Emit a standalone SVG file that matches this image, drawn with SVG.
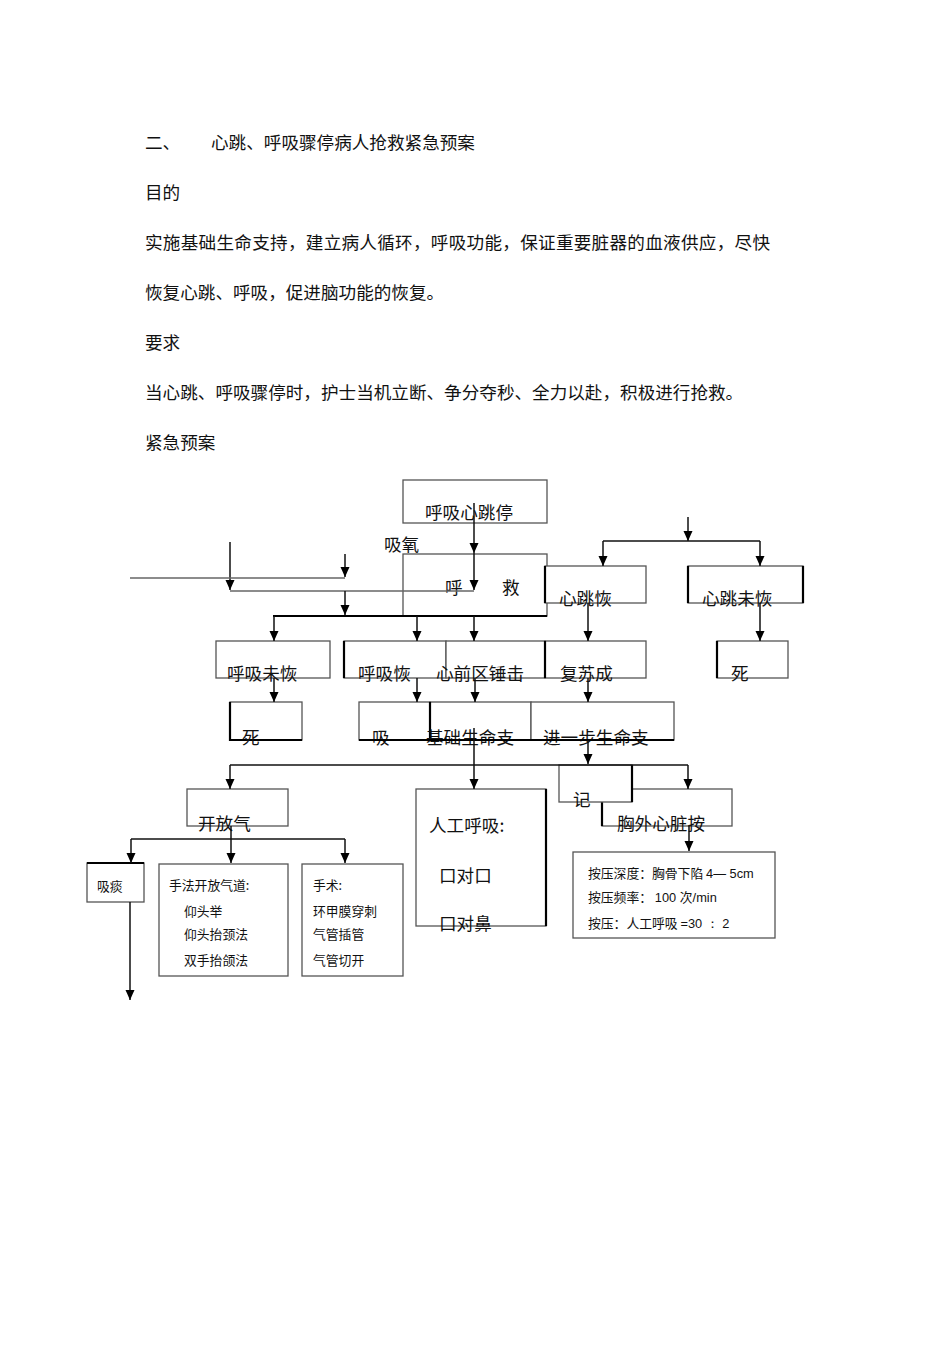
<svg xmlns="http://www.w3.org/2000/svg" width="950" height="1345" viewBox="0 0 950 1345">
<defs>
<style>
.t{font-family:"Noto Sans CJK SC","Liberation Sans",sans-serif;font-size:17.6px;fill:#111}
.s{font-family:"Noto Sans CJK SC","Liberation Sans",sans-serif;font-size:12.8px;fill:#111}
.b{fill:#fff;stroke:#555;stroke-width:1.3}
.k{fill:none;stroke:#000;stroke-width:2.2}
.c{fill:none;stroke:#111;stroke-width:1.5}
.g{fill:none;stroke:#666;stroke-width:1.3}
</style>
<marker id="ah" markerUnits="userSpaceOnUse" markerWidth="10" markerHeight="10" refX="10" refY="5" orient="auto">
<path d="M0,0.5 L10,5 L0,9.5 z" fill="#000"/>
</marker>
</defs>
<rect width="950" height="1345" fill="#fff"/>

<g id="header">
<text class="t" x="145" y="149">二、</text>
<text class="t" x="211" y="149">心跳、呼吸骤停病人抢救紧急预案</text>
<text class="t" x="145" y="199">目的</text>
<text class="t" x="145" y="249" textLength="625" lengthAdjust="spacing">实施基础生命支持，建立病人循环，呼吸功能，保证重要脏器的血液供应，尽快</text>
<text class="t" x="145" y="299">恢复心跳、呼吸，促进脑功能的恢复。</text>
<text class="t" x="145" y="349">要求</text>
<text class="t" x="145" y="399">当心跳、呼吸骤停时，护士当机立断、争分夺秒、全力以赴，积极进行抢救。</text>
<text class="t" x="145" y="449">紧急预案</text>
</g>

<g id="n-arrest"><rect class="b" x="403" y="480" width="144" height="43"/><text class="t" x="425" y="519">呼吸心跳停</text></g>
<g id="n-oxygen"><text class="t" x="384" y="551">吸氧</text></g>
<g id="n-rescue"><rect class="b" x="403" y="554" width="144" height="62"/><text class="t" x="445" y="594">呼</text><text class="t" x="502" y="594">救</text></g>
<g id="n-heart-ok"><rect class="b" x="545" y="566" width="101" height="37"/><path class="k" d="M545,566 V603" stroke-width="1.6"/><text class="t" x="559" y="605">心跳恢</text></g>
<g id="n-heart-no"><rect class="b" x="688" y="566" width="115" height="37"/><path class="k" d="M688,566 V603 M803,566 V603" stroke-width="1.8"/><text class="t" x="702" y="605">心跳未恢</text></g>

<g id="n-breath-no"><rect class="b" x="216" y="641" width="114" height="37"/><text class="t" x="227" y="680">呼吸未恢</text></g>
<g id="n-breath-ok"><rect class="b" x="344" y="641" width="102" height="37"/><path class="k" d="M344,641 V678"/><text class="t" x="358" y="680">呼吸恢</text></g>
<g id="n-thump"><rect class="b" x="446" y="641" width="99" height="37"/><text class="t" x="436" y="680">心前区锤击</text></g>
<g id="n-revived"><rect class="b" x="545" y="641" width="101" height="37"/><path class="k" d="M545,641 V678"/><text class="t" x="560" y="680">复苏成</text></g>
<g id="n-death-r"><rect class="b" x="717" y="641" width="71" height="37"/><path class="k" d="M717,641 V678"/><text class="t" x="731" y="680">死</text></g>

<g id="n-death-l"><rect class="b" x="230" y="702" width="72" height="38"/><path class="k" d="M230,702 V740 H302"/><text class="t" x="242" y="744">死</text></g>
<g id="n-suck"><rect class="b" x="359" y="702" width="71" height="38"/><text class="t" x="372" y="744">吸</text></g>
<g id="n-bls"><rect class="b" x="430" y="702" width="101" height="38"/><path class="k" d="M430,702 V740"/><text class="t" x="426" y="744">基础生命支</text></g>
<g id="n-als"><rect class="b" x="531" y="702" width="143" height="38"/><text class="t" x="543" y="744">进一步生命支</text></g>
<path id="row4-base" class="k" d="M359,740 H674"/>

<g id="n-airway"><rect class="b" x="187" y="789" width="101" height="37"/><text class="t" x="198" y="830">开放气</text></g>
<g id="n-ventilation"><rect class="b" x="416" y="789" width="130" height="137"/><path class="k" d="M546,789 V926" stroke-width="1.8"/><text class="t" x="429" y="832">人工呼吸:</text><text class="t" x="439" y="882">口对口</text><text class="t" x="439" y="930">口对鼻</text></g>
<g id="n-compress"><rect class="b" x="602" y="789" width="130" height="37"/><path class="k" d="M602,802 V826"/><text class="t" x="617" y="830">胸外心脏按</text></g>
<g id="n-record"><rect class="b" x="559" y="765" width="73" height="37"/><path class="k" d="M632,765 V802" stroke-width="1.8"/><text class="t" x="573" y="806">记</text></g>

<g id="n-suction"><rect class="b" x="87" y="863" width="57" height="39"/><path class="k" d="M87,863 H144"/><text class="s" x="97" y="891">吸痰</text></g>
<g id="n-manual"><rect class="b" x="159" y="864" width="129" height="112" stroke="#222" stroke-width="2"/><text class="s" x="169" y="890">手法开放气道:</text><text class="s" x="184" y="916">仰头举</text><text class="s" x="184" y="939">仰头抬颈法</text><text class="s" x="184" y="965">双手抬颌法</text></g>
<g id="n-surgery"><rect class="b" x="302" y="864" width="101" height="112" stroke="#222" stroke-width="2"/><text class="s" x="313" y="890">手术:</text><text class="s" x="313" y="916">环甲膜穿刺</text><text class="s" x="313" y="939">气管插管</text><text class="s" x="313" y="965">气管切开</text></g>
<g id="n-cpr-params"><rect class="b" x="573" y="852" width="202" height="86" stroke="#222" stroke-width="2"/><text class="s" x="588" y="878">按压深度：胸骨下陷 <tspan font-family="Liberation Sans">4— 5cm</tspan></text><text class="s" x="588" y="902">按压频率： <tspan font-family="Liberation Sans">100  </tspan>次<tspan font-family="Liberation Sans">/min</tspan></text><text class="s" x="588" y="928">按压：人工呼吸 <tspan font-family="Liberation Sans"> =30 ： 2</tspan></text></g>

<g id="connectors">
<path class="c" d="M474,503 V553" marker-end="url(#ah)"/>
<path class="c" d="M474,553 V590" marker-end="url(#ah)"/>
<path class="g" d="M230,591 H474"/>
<path class="c" d="M230,542 V590" marker-end="url(#ah)"/>
<path class="g" d="M130,578 H345"/>
<path class="c" d="M345,554 V577" marker-end="url(#ah)"/>
<path class="c" d="M345,591 V615" marker-end="url(#ah)"/>
<path class="k" d="M273,616 H547" stroke-width="2.6"/>
<path class="c" d="M274,616 V641" marker-end="url(#ah)"/>
<path class="c" d="M417,616 V641" marker-end="url(#ah)"/>
<path class="c" d="M474,616 V641" marker-end="url(#ah)"/>
<path class="c" d="M688,517 V541" marker-end="url(#ah)"/>
<path class="c" d="M603,541 H760"/>
<path class="c" d="M603,541 V566" marker-end="url(#ah)"/>
<path class="c" d="M760,541 V566" marker-end="url(#ah)"/>
<path class="c" d="M588,603 V641" marker-end="url(#ah)"/>
<path class="c" d="M760,603 V641" marker-end="url(#ah)"/>
<path class="c" d="M274,678 V702" marker-end="url(#ah)"/>
<path class="c" d="M417,678 V702" marker-end="url(#ah)"/>
<path class="c" d="M475,678 V702" marker-end="url(#ah)"/>
<path class="c" d="M588,678 V702" marker-end="url(#ah)"/>
<path class="c" d="M474,728 V789" marker-end="url(#ah)"/>
<path class="c" d="M588,740 V764" marker-end="url(#ah)"/>
<path class="c" d="M230,765 H688"/>
<path class="c" d="M230,765 V789" marker-end="url(#ah)"/>
<path class="c" d="M688,765 V789" marker-end="url(#ah)"/>
<path class="c" d="M231,826 V863" marker-end="url(#ah)"/>
<path class="c" d="M131,839 H345"/>
<path class="c" d="M131,839 V863" marker-end="url(#ah)"/>
<path class="c" d="M345,839 V863" marker-end="url(#ah)"/>
<path class="c" d="M130,902 V1000" marker-end="url(#ah)"/>
<path class="c" d="M689,826 V851" marker-end="url(#ah)"/>
</g>
</svg>
